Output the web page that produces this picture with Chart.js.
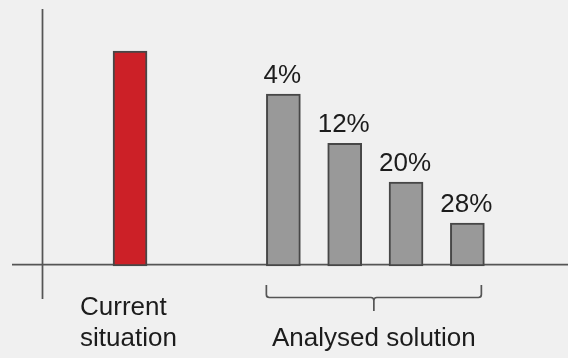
<!DOCTYPE html>
<html>
<head>
<meta charset="utf-8">
<script src="https://cdn.jsdelivr.net/npm/chart.js@4/dist/chart.umd.min.js"></script>
<style>
  html, body { margin: 0; padding: 0; background: #f0f0f0; }
  #wrap { width: 568px; height: 358px; position: relative; }
</style>
</head>
<body>
<div id="wrap"><canvas id="c" width="568" height="358"></canvas></div>
<script>
// Category labels
const currentLabel = ['Current', 'situation'];
const solutionLabel = 'Analysed solution';

// Bar values (relative cost, current situation = 100)
const currentValue = 100;
const solutionValues = [80, 57, 39, 20];

// Rate shown above each analysed-solution bar
const solutionRates = ['4%', '12%', '20%', '28%'];

// Colours
const RED = '#cc2027';
const GREY = '#999999';
const EDGE = '#474747';
const AXIS = '#555555';
const TEXT = '#1c1c1c';
const FONT = '26px "Liberation Sans", Arial, sans-serif';

// Slot layout: current bar, a wide gap, then the solutions with one slot between each
const SLOTS = 12;
const firstSolutionSlot = 5;
const slotValues = new Array(SLOTS).fill(null);
const slotColors = new Array(SLOTS).fill(GREY);
slotValues[0] = currentValue;
slotColors[0] = RED;
const solutionSlots = solutionValues.map((v, i) => {
  const s = firstSolutionSlot + 2 * i;
  slotValues[s] = v;
  return s;
});

const decor = {
  id: 'decor',
  beforeDatasetsDraw(chart) {
    const { ctx, scales: { y } } = chart;
    const zeroY = y.getPixelForValue(0) - 1.5;
    ctx.save();
    ctx.strokeStyle = AXIS;
    ctx.lineWidth = 1.75;
    ctx.beginPath();
    ctx.moveTo(12, zeroY);
    ctx.lineTo(chart.width, zeroY);
    ctx.moveTo(42.5, 9);
    ctx.lineTo(42.5, 299);
    ctx.stroke();
    ctx.restore();
  },
  afterDatasetsDraw(chart) {
    const { ctx } = chart;
    const bars = chart.getDatasetMeta(0).data;
    ctx.save();
    ctx.fillStyle = TEXT;
    ctx.font = FONT;
    ctx.textBaseline = 'alphabetic';

    // rate labels above the analysed-solution bars
    ctx.textAlign = 'center';
    solutionSlots.forEach((s, i) => {
      const b = bars[s];
      ctx.fillText(solutionRates[i], b.x - 1, b.y - 11);
    });

    // current situation label
    const red = bars[0];
    ctx.textAlign = 'left';
    ctx.fillText(currentLabel[0], red.x - 50, 315);
    ctx.fillText(currentLabel[1], red.x - 50, 346);

    // brace under the analysed-solution bars
    const first = bars[solutionSlots[0]];
    const last = bars[solutionSlots[solutionSlots.length - 1]];
    const x0 = first.x - first.width / 2;
    const x1 = last.x + last.width / 2 - 3;
    const mid = (x0 + x1) / 2;
    const top = 285, line = 297.5, tip = 311, r = 3;
    ctx.strokeStyle = AXIS;
    ctx.lineWidth = 1.7;
    ctx.beginPath();
    ctx.moveTo(x0, top);
    ctx.lineTo(x0, line - r);
    ctx.quadraticCurveTo(x0, line, x0 + r, line);
    ctx.lineTo(mid - r, line);
    ctx.quadraticCurveTo(mid, line, mid, line + r);
    ctx.lineTo(mid, tip);
    ctx.moveTo(mid, line + r);
    ctx.quadraticCurveTo(mid, line, mid + r, line);
    ctx.lineTo(x1 - r, line);
    ctx.quadraticCurveTo(x1, line, x1, line - r);
    ctx.lineTo(x1, top);
    ctx.stroke();

    ctx.textAlign = 'center';
    ctx.fillText(solutionLabel, mid, 346);
    ctx.restore();
  }
};

new Chart(document.getElementById('c'), {
  type: 'bar',
  data: {
    labels: slotValues.map((_, i) => String(i)),
    datasets: [{
      data: slotValues,
      backgroundColor: slotColors,
      borderColor: EDGE,
      borderWidth: 2,
      borderSkipped: false,
      barThickness: 34,
      clip: false
    }]
  },
  options: {
    responsive: false,
    animation: false,
    events: [],
    layout: { padding: { top: 51, bottom: 92, left: 114.7, right: 85.3 } },
    plugins: { legend: { display: false }, tooltip: { enabled: false } },
    scales: {
      x: { display: false, offset: true },
      y: { display: false, min: 0, max: 100 }
    }
  },
  plugins: [decor]
});
</script>
</body>
</html>
